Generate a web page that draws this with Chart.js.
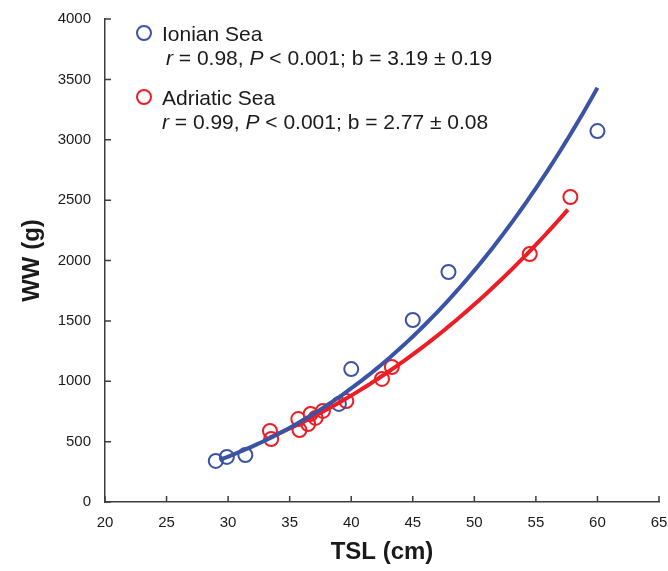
<!DOCTYPE html>
<html>
<head>
<meta charset="utf-8">
<script src="https://cdn.jsdelivr.net/npm/chart.js@4.4.1/dist/chart.umd.min.js"></script>
<style>
html,body{margin:0;padding:0;background:#fff;}
#wrap{width:668px;height:571px;}
</style>
</head>
<body>
<div id="wrap"><canvas id="c" width="668" height="571"></canvas></div>
<script>
// ---- Data ----
const ionianTSL = [29.0, 29.9, 31.4, 39.0, 40.0, 45.0, 47.9, 60.0];
const ionianWW  = [340, 373, 389, 812, 1101, 1507, 1905, 3072];

const adriaticTSL = [33.4, 33.5, 35.7, 35.8, 36.5, 36.7, 37.1, 37.7, 39.6, 42.5, 43.3, 54.5, 57.8];
const adriaticWW  = [588, 522, 687, 596, 646, 729, 696, 754, 836, 1019, 1118, 2054, 2526];

// Power-law fits W = a * L^b (b as printed on the chart)
const ionianFit   = { a: 0.007294, b: 3.19, from: 29.3, to: 60.0 };
const adriaticFit = { a: 0.03218,  b: 2.77, from: 33.4, to: 57.6 };

const xTicks = [20, 25, 30, 35, 40, 45, 50, 55, 60, 65];
const yTicks = [0, 500, 1000, 1500, 2000, 2500, 3000, 3500, 4000];

const legendIonian   = ["Ionian Sea",   "0.98", "0.001", "3.19 \u00b1 0.19"];
const legendAdriatic = ["Adriatic Sea", "0.99", "0.001", "2.77 \u00b1 0.08"];

const BLUE = '#3b53a4';
const RED  = '#ee1d25';
const AXIS = '#3d3d3d';
const FONT = "'Liberation Sans', Arial, sans-serif";

function pts(xs, ys){ return xs.map((x,i)=>({x:x, y:ys[i]})); }
function fitCurve(f){
  const out = [];
  const n = 80;
  for(let i=0;i<=n;i++){
    const L = f.from + (f.to - f.from)*i/n;
    out.push({x:L, y:f.a*Math.pow(L, f.b)});
  }
  return out;
}

const innerTicks = {
  id:'innerTicks',
  afterDraw(chart){
    const ctx = chart.ctx, xs = chart.scales.x, ys = chart.scales.y;
    const ca = chart.chartArea;
    ctx.save();
    ctx.strokeStyle = AXIS; ctx.lineWidth = 1.5;
    ctx.beginPath();
    yTicks.forEach(v=>{ const y = ys.getPixelForValue(v); ctx.moveTo(ca.left, y); ctx.lineTo(ca.left+6, y); });
    xTicks.forEach(v=>{ const x = xs.getPixelForValue(v); ctx.moveTo(x, ca.bottom); ctx.lineTo(x, ca.bottom-6); });
    ctx.stroke();
    ctx.restore();
  }
};

function drawStatLine(ctx, x, y, vals){
  const normal = "21px " + FONT, ital = "italic 21px " + FONT;
  const parts = [
    [ital, "r"], [normal, " = " + vals[1] + ", "], [ital, "P"],
    [normal, " < " + vals[2] + "; b = " + vals[3]]
  ];
  let cx = x;
  parts.forEach(p=>{ ctx.font = p[0]; ctx.fillText(p[1], cx, y); cx += ctx.measureText(p[1]).width; });
}

const legendPlugin = {
  id:'customLegend',
  afterDraw(chart){
    const ctx = chart.ctx;
    ctx.save();
    ctx.fillStyle = '#1a1a1a';
    ctx.textBaseline = 'alphabetic';
    ctx.textAlign = 'left';
    ctx.lineWidth = 2;
    // Ionian
    ctx.strokeStyle = BLUE; ctx.beginPath(); ctx.arc(144, 33, 7, 0, Math.PI*2); ctx.stroke();
    ctx.font = "21px " + FONT; ctx.fillText(legendIonian[0], 162, 41);
    drawStatLine(ctx, 166, 64.5, legendIonian);
    // Adriatic
    ctx.strokeStyle = RED; ctx.beginPath(); ctx.arc(144, 97, 7, 0, Math.PI*2); ctx.stroke();
    ctx.font = "21px " + FONT; ctx.fillText(legendAdriatic[0], 162, 104.5);
    drawStatLine(ctx, 162, 128.5, legendAdriatic);
    ctx.restore();
  }
};

new Chart(document.getElementById('c'), {
  type: 'scatter',
  data: {
    datasets: [
      { label:'Ionian fit', type:'line', data: fitCurve(ionianFit), borderColor: BLUE, borderWidth: 4,
        pointRadius: 0, fill:false, tension:0 },
      { label:'Adriatic fit', type:'line', data: fitCurve(adriaticFit), borderColor: RED, borderWidth: 4,
        pointRadius: 0, fill:false, tension:0 },
      { label:'Ionian Sea', data: pts(ionianTSL, ionianWW), borderColor: BLUE, backgroundColor:'rgba(0,0,0,0)',
        pointRadius: 7, pointBorderWidth: 2, pointHoverRadius: 7 },
      { label:'Adriatic Sea', data: pts(adriaticTSL, adriaticWW), borderColor: RED, backgroundColor:'rgba(0,0,0,0)',
        pointRadius: 7, pointBorderWidth: 2, pointHoverRadius: 7 }
    ]
  },
  options: {
    responsive: false,
    animation: false,
    layout: { padding: { top: 19, right: 8, left: 0, bottom: 0 } },
    plugins: { legend: { display:false }, tooltip: { enabled:false } },
    scales: {
      x: {
        type:'linear', min: 20, max: 65,
        afterBuildTicks(s){ s.ticks = xTicks.map(v=>({value:v})); },
        afterFit(s){ s.height = 69; s.paddingRight = 8; s.paddingLeft = 0; },
        grid: { display:false, drawTicks:false },
        border: { display:true, color: AXIS, width: 1.5 },
        ticks: { padding: 12, color:'#1a1a1a', font:{ family: FONT, size: 15 }, callback: v => String(v) },
        title: { display:true, text:'TSL (cm)', color:'#1a1a1a', padding:{top:0,bottom:4},
                 font:{ family: FONT, size: 24, weight:'bold' } }
      },
      y: {
        type:'linear', min: 0, max: 4000,
        afterBuildTicks(s){ s.ticks = yTicks.map(v=>({value:v})); },
        afterFit(s){ s.width = 105; s.paddingTop = 0; s.paddingBottom = 0; },
        grid: { display:false, drawTicks:false },
        border: { display:true, color: AXIS, width: 1.5 },
        ticks: { padding: 14, color:'#1a1a1a', font:{ family: FONT, size: 15 }, callback: v => String(v) },
        title: { display:true, text:'WW (g)', color:'#1a1a1a', padding:{top:18,bottom:0},
                 font:{ family: FONT, size: 24, weight:'bold' } }
      }
    }
  },
  plugins: [innerTicks, legendPlugin]
});
</script>
</body>
</html>
